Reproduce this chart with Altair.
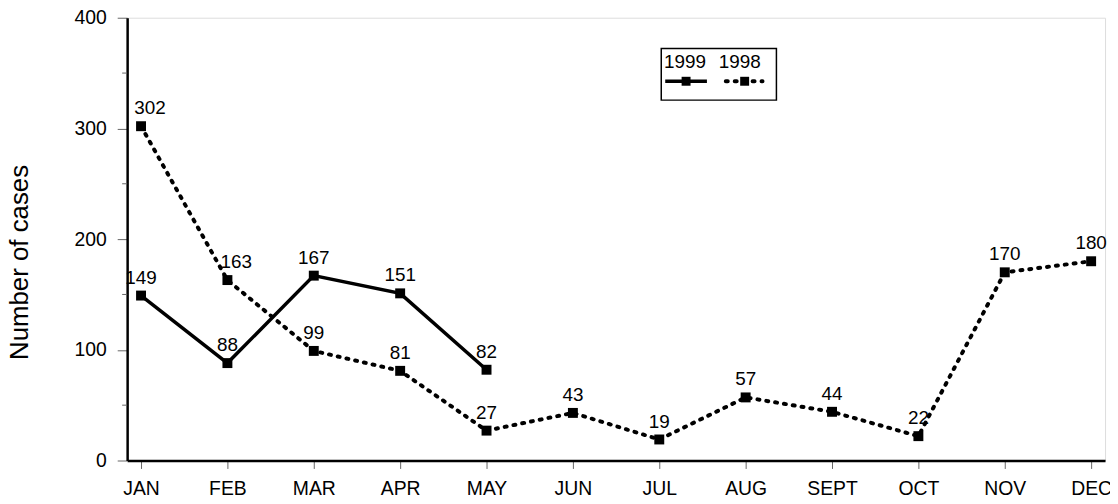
import altair as alt
import pandas as pd

months = ["JAN", "FEB", "MAR", "APR", "MAY", "JUN", "JUL", "AUG", "SEPT", "OCT", "NOV", "DEC"]
series = ["1999", "1998"]
cases_1999 = [149, 88, 167, 151, 82]
cases_1998 = [302, 163, 99, 81, 27, 43, 19, 57, 44, 22, 170, 180]
y_major = [0, 100, 200, 300, 400]
y_minor = [50, 150, 250, 350]

rows = []
for m, v in zip(months, cases_1999):
    rows.append({"month": m, "year": "1999", "cases": v})
for m, v in zip(months, cases_1998):
    rows.append({"month": m, "year": "1998", "cases": v})
df = pd.DataFrame(rows)

FONT = "Liberation Sans"

x_enc = alt.X(
    "month:N",
    sort=months,
    scale=alt.Scale(type="point", domain=months, padding=0.161),
    axis=alt.Axis(
        title=None, labelAngle=0, labelFontSize=19.5, labelColor="black", labelFont=FONT,
        labelPadding=11, tickSize=8, tickColor="#666", tickWidth=1,
        domainColor="black", domainWidth=2.5, grid=False,
    ),
)
y_enc = alt.Y(
    "cases:Q",
    scale=alt.Scale(domain=[0, 400], nice=False, zero=True),
    axis=alt.Axis(
        values=y_major, title="Number of cases", titleFontSize=26, titleFontWeight="normal",
        titleFont=FONT, titleColor="black", titleAngle=270, titleAlign="center",
        titleBaseline="alphabetic", titleX=-100, titleY=246,
        labelFontSize=19.5, labelColor="black", labelFont=FONT, labelPadding=11,
        tickSize=10, tickColor="#666", tickWidth=1,
        domainColor="black", domainWidth=2.5, grid=False,
    ),
)

base = alt.Chart(df).encode(x=x_enc, y=y_enc)

line99 = base.transform_filter(alt.datum.year == "1999").mark_line(
    color="black", strokeWidth=3.5
)
line98 = base.transform_filter(alt.datum.year == "1998").mark_line(
    color="black", strokeWidth=4, strokeDash=[2, 7], strokeCap="round"
)
points = base.mark_point(shape="square", filled=True, size=100, color="black", opacity=1)

lab_main = base.transform_filter(
    ~((alt.datum.year == "1998") & ((alt.datum.month == "JAN") | (alt.datum.month == "FEB")))
).mark_text(font=FONT, fontSize=19, baseline="alphabetic", align="center", dy=-12, color="black").encode(
    text="cases:Q"
)
lab_shift = base.transform_filter(
    (alt.datum.year == "1998") & ((alt.datum.month == "JAN") | (alt.datum.month == "FEB"))
).mark_text(font=FONT, fontSize=19, baseline="alphabetic", align="center", dy=-12, dx=9, color="black").encode(
    text="cases:Q"
)

minor = alt.Chart(pd.DataFrame({"cases": y_minor})).mark_rule(color="#666", strokeWidth=1).encode(
    y=alt.Y("cases:Q"), x=alt.value(-5), x2=alt.value(0)
)

# Legend
leg_df = pd.DataFrame({"label": series})
box = alt.Chart(pd.DataFrame({"k": [0]})).mark_rect(
    fill="white", stroke="black", strokeWidth=1.5
).encode(x=alt.value(538), x2=alt.value(654), y=alt.value(31), y2=alt.value(83))

leg99 = alt.Chart(leg_df).transform_filter(alt.datum.label == "1999")
leg98 = alt.Chart(leg_df).transform_filter(alt.datum.label == "1998")

t99 = leg99.mark_text(font=FONT, fontSize=19, baseline="alphabetic", align="center", color="black").encode(
    text="label:N", x=alt.value(562), y=alt.value(51)
)
t98 = leg98.mark_text(font=FONT, fontSize=19, baseline="alphabetic", align="center", color="black").encode(
    text="label:N", x=alt.value(617), y=alt.value(51)
)
r99 = leg99.mark_rule(color="black", strokeWidth=3.5).encode(
    x=alt.value(542), x2=alt.value(584), y=alt.value(64)
)
r98 = leg98.mark_rule(color="black", strokeWidth=4, strokeDash=[2, 7], strokeCap="round").encode(
    x=alt.value(603), x2=alt.value(640), y=alt.value(64)
)
s99 = leg99.mark_point(shape="square", filled=True, size=81, color="black", opacity=1).encode(
    x=alt.value(563), y=alt.value(64)
)
s98 = leg98.mark_point(shape="square", filled=True, size=81, color="black", opacity=1).encode(
    x=alt.value(622), y=alt.value(64)
)

chart = alt.layer(
    minor, line98, line99, points, lab_main, lab_shift, box, r99, r98, s99, s98, t99, t98
).properties(
    width=985, height=446,
    autosize=alt.AutoSizeParams(type="none"),
    padding={"left": 120, "top": 8, "right": 5, "bottom": 40},
).configure_view(stroke=None).configure(font=FONT, background="white")

chart.save("out.html", embed_options={"renderer": "svg", "actions": False})
